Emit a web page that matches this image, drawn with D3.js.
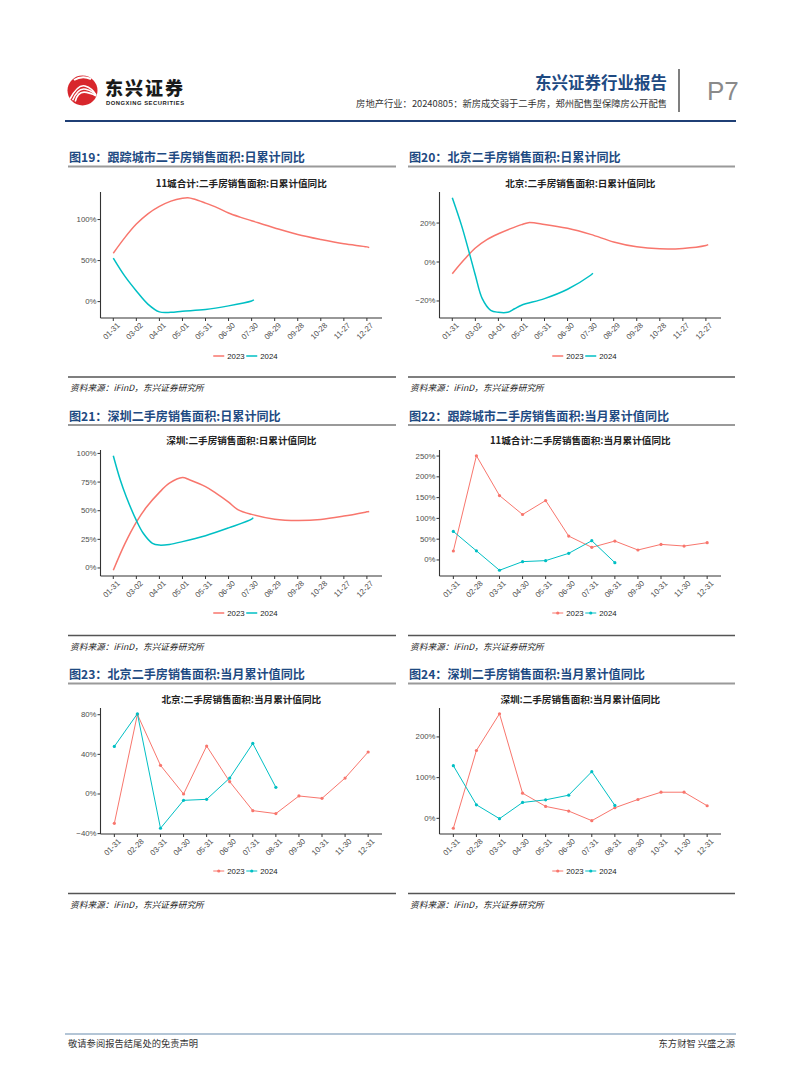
<!DOCTYPE html>
<html><head><meta charset="utf-8">
<script src="https://cdn.jsdelivr.net/npm/d3@7"></script>
<style>
body{margin:0;background:#fff;}
svg{display:block;}
</style></head><body>
<svg id="page" width="802" height="1087"></svg>
<script>
// ---------------- DATA ----------------
const seriesNames = ["2023", "2024"];
const dailyTicks = ["01-31","03-02","04-01","05-01","05-31","06-30","07-30","08-29","09-28","10-28","11-27","12-27"];
const monthTicks = ["01-31","02-28","03-31","04-30","05-31","06-30","07-31","08-31","09-30","10-31","11-30","12-31"];

// 图19 11城合计 日累计值同比 (%)
const c19_2023 = [["01-31",59],["02-15",78],["03-02",94.5],["03-17",107],["04-01",116],["04-16",122.5],["05-01",126],["05-08",126.6],["05-16",125],["05-31",120],["06-15",114.5],["06-30",108],["07-15",103],["07-30",98.6],["08-29",89.8],["09-28",81.7],["10-28",75.6],["11-27",70.4],["12-27",66.7],["12-30",65.8]];
const c19_2024 = [["01-31",53],["02-15",31],["03-02",13],["03-17",-3],["04-01",-12.5],["04-16",-13],["05-01",-11.7],["05-31",-9.7],["06-30",-5.2],["07-30",0.8],["08-02",2]];

// 图20 北京 日累计值同比 (%)
const c20_2023 = [["01-31",-6],["02-15",1],["03-02",7.2],["03-17",11.5],["04-01",14.5],["04-16",17],["05-01",19.2],["05-10",20.2],["05-31",19.3],["06-30",17.3],["07-30",14.2],["08-29",10.3],["09-28",7.8],["10-28",6.8],["11-27",7],["12-27",8.5],["12-30",8.9]];
const c20_2024 = [["01-31",33],["02-12",18.8],["02-23",3.4],["03-02",-6.8],["03-11",-18.8],["03-22",-24.8],["04-01",-25.8],["04-13",-25.8],["04-22",-24],["05-01",-22.2],["05-31",-18.8],["06-30",-14],["07-30",-6.8],["08-02",-5.8]];

// 图21 深圳 日累计值同比 (%)
const c21_2023 = [["01-31",-2],["02-15",21],["03-02",40],["03-15",53],["04-01",66],["04-14",74],["05-01",79],["05-10",77],["05-31",71],["06-13",65.6],["06-30",57.5],["07-12",51],["07-30",46.8],["08-29",42.6],["09-28",41.5],["10-28",42.4],["11-27",45.3],["12-27",49],["12-30",49.4]];
const c21_2024 = [["01-31",98],["02-09",77],["02-17",62],["03-02",41.5],["03-11",30.3],["03-23",21.5],["04-01",20],["04-14",20.6],["05-01",23],["05-31",28.2],["06-30",35],["07-30",42.6],["08-01",44]];

// 图22 11城合计 当月累计值同比 (%)
const c22_2023 = [21.6,250.8,155,109.4,143,57.5,30.4,45.5,24,37.5,33.5,41.5];
const c22_2024 = [68.7,22,-24.8,-4,-1.6,16,46.3,-6.4];

// 图23 北京 当月累计值同比 (%)
const c23_2023 = [-29.6,80.3,28.9,0,48.4,12.4,-16.8,-19.8,-2,-4.4,16.1,42.4];
const c23_2024 = [48,81,-34.6,-6.4,-5.4,16.1,51,6.7];

// 图24 深圳 当月累计值同比 (%)
const c24_2023 = [-24.4,166.7,257,61.8,29.3,17.9,-5.7,26,46.3,64.2,64.2,30.9];
const c24_2024 = [129.3,33.3,-0.8,39,45.5,56.9,114.6,31.7];

const yTicks19 = [0,50,100];
const yTicks20 = [-20,0,20];
const yTicks21 = [0,25,50,75,100];
const yTicks22 = [0,50,100,150,200,250];
const yTicks23 = [-40,0,40,80];
const yTicks24 = [0,100,200];

const panelTitles = ["图19：跟踪城市二手房销售面积:日累计同比","图20：北京二手房销售面积:日累计同比","图21：深圳二手房销售面积:日累计同比","图22：跟踪城市二手房销售面积:当月累计值同比","图23：北京二手房销售面积:当月累计值同比","图24：深圳二手房销售面积:当月累计值同比"];
const chartTitles = ["11城合计:二手房销售面积:日累计值同比","北京:二手房销售面积:日累计值同比","深圳:二手房销售面积:日累计值同比","11城合计:二手房销售面积:当月累计值同比","北京:二手房销售面积:当月累计值同比","深圳:二手房销售面积:当月累计值同比"];
const sourceText = "资料来源：iFinD，东兴证券研究所";

// ---------------- STYLE / LAYOUT ----------------
const COL = ["#F8766D", "#00BFC4"];
const CJK = "'Noto Sans CJK SC','Noto Sans',sans-serif";
const LAT = "'Liberation Sans',Arial,sans-serif";
const BLUE = "#1e4a82";
const svg = d3.select("#page");

// Header
const logo = svg.append("g");
logo.append("circle").attr("cx",82.5).attr("cy",90.5).attr("r",15).attr("fill","#d8262c");
[[0,0],[2.6,3.2],[5.2,6.4]].forEach(([dx,dy])=>{
  logo.append("path").attr("d",`M${70+dx},${99+dy*0.4} Q${78},${84+dy} ${85+dx*0.3},${86+dy} T${96},${95+dy*0.2}`)
    .attr("fill","none").attr("stroke","#fff").attr("stroke-width",1.6);
});
logo.append("path").attr("d","M74,80 Q82,75 91,79").attr("fill","none").attr("stroke","#fff").attr("stroke-width",2);
svg.append("text").attr("x",105).attr("y",95).attr("font-family",CJK).attr("font-weight",900)
  .attr("font-size",18).attr("fill","#1a1a1a").attr("textLength",78).text("东兴证券");
svg.append("text").attr("x",106).attr("y",104.5).attr("font-family",LAT).attr("font-weight",700)
  .attr("font-size",5.8).attr("fill","#1a1a1a").attr("textLength",78).text("DONGXING SECURITIES");

svg.append("text").attr("x",667).attr("y",89).attr("text-anchor","end").attr("font-family",CJK)
  .attr("font-weight",700).attr("font-size",16.5).attr("fill",BLUE).text("东兴证券行业报告");
svg.append("text").attr("x",667).attr("y",107).attr("text-anchor","end").attr("font-family",CJK)
  .attr("font-size",9.3).attr("fill","#333").text("房地产行业：20240805：新房成交弱于二手房，郑州配售型保障房公开配售");
svg.append("line").attr("x1",679).attr("x2",679).attr("y1",69).attr("y2",112).attr("stroke","#555").attr("stroke-width",1.5);
svg.append("text").attr("x",707).attr("y",100).attr("font-family",LAT).attr("font-size",26)
  .attr("fill","#8a8a8a").text("P7");
svg.append("line").attr("x1",65).attr("x2",736).attr("y1",121).attr("y2",121).attr("stroke","#1f3f75").attr("stroke-width",2);

// Footer
svg.append("line").attr("x1",65).attr("x2",736).attr("y1",1034).attr("y2",1034).attr("stroke","#b3c5d6").attr("stroke-width",2);
svg.append("text").attr("x",68).attr("y",1047).attr("font-family",CJK).attr("font-size",9.3).attr("fill","#333").text("敬请参阅报告结尾处的免责声明");
svg.append("text").attr("x",735).attr("y",1047).attr("text-anchor","end").attr("font-family",CJK).attr("font-size",9.3).attr("fill","#333").text("东方财智 兴盛之源");

// Panel frames
const cols = [{x0:68,x1:396,pl:100.5,pr:382},{x0:408,x1:735,pl:439.5,pr:721}];
const rows = [
  {title:156,gray:166.5,ctitle:183,pt:192,pb:318,legend:356,bottom:377,source:387},
  {title:415,gray:425,ctitle:440,pt:450,pb:576,legend:613,bottom:635.5,source:646},
  {title:673.5,gray:683.5,ctitle:699,pt:708,pb:834,legend:871,bottom:893.5,source:904}
];

function frame(i){
  const c = cols[i%2], r = rows[Math.floor(i/2)];
  svg.append("text").attr("x",c.x0+1).attr("y",r.title).attr("dominant-baseline","central")
    .attr("font-family",CJK).attr("font-weight",700).attr("font-size",12.1).attr("fill",BLUE).text(panelTitles[i]);
  svg.append("line").attr("x1",c.x0).attr("x2",c.x1).attr("y1",r.gray).attr("y2",r.gray).attr("stroke","#9a9a9a").attr("stroke-width",2);
  svg.append("line").attr("x1",c.x0).attr("x2",c.x1).attr("y1",r.bottom).attr("y2",r.bottom).attr("stroke","#555").attr("stroke-width",1.5);
  svg.append("text").attr("x",c.x0+2).attr("y",r.source).attr("dominant-baseline","central")
    .attr("font-family",CJK).attr("font-style","italic").attr("font-size",8.7).attr("fill","#222").text(sourceText);
  svg.append("text").attr("x",(c.pl+c.pr)/2).attr("y",r.ctitle).attr("dominant-baseline","central").attr("text-anchor","middle")
    .attr("font-family",CJK).attr("font-weight",700).attr("font-size",9.6).attr("fill","#222").text(chartTitles[i]);
  return {c, r};
}

function yScaleFor(vals, r){
  const [mn,mx] = d3.extent(vals);
  const pad = (mx-mn)*0.05;
  return d3.scaleLinear().domain([mn-pad, mx+pad]).range([r.pb, r.pt]);
}

function drawAxes(c, r, y, yTicks, xTickPos, xTickLabels){
  const g = svg.append("g");
  g.append("line").attr("x1",c.pl).attr("x2",c.pl).attr("y1",r.pt).attr("y2",r.pb).attr("stroke","#333").attr("stroke-width",1.1);
  g.append("line").attr("x1",c.pl).attr("x2",c.pr).attr("y1",r.pb).attr("y2",r.pb).attr("stroke","#333").attr("stroke-width",1.1);
  yTicks.forEach(t=>{
    const yy = y(t);
    g.append("line").attr("x1",c.pl-3).attr("x2",c.pl).attr("y1",yy).attr("y2",yy).attr("stroke","#333");
    g.append("text").attr("x",c.pl-4).attr("y",yy).attr("dominant-baseline","central").attr("text-anchor","end")
      .attr("font-family",LAT).attr("font-size",7.8).attr("fill","#4d4d4d").text(d3.format("d")(t)+"%");
  });
  xTickPos.forEach((xx,k)=>{
    g.append("line").attr("x1",xx).attr("x2",xx).attr("y1",r.pb).attr("y2",r.pb+3).attr("stroke","#333");
    g.append("text").attr("transform",`translate(${xx+3},${r.pb+4}) rotate(-45)`)
      .attr("text-anchor","end").attr("dominant-baseline","hanging")
      .attr("font-family",LAT).attr("font-size",7.8).attr("fill","#4d4d4d").text(xTickLabels[k]);
  });
}

function legend(c, r, withDots){
  const g = svg.append("g");
  const cx = (c.pl+c.pr)/2 + 3;
  const start = cx - 31;
  seriesNames.forEach((s,k)=>{
    const x0 = start + k*33;
    g.append("line").attr("x1",x0).attr("x2",x0+11).attr("y1",r.legend).attr("y2",r.legend)
      .attr("stroke",COL[k]).attr("stroke-width",withDots?1:1.5);
    if(withDots) g.append("circle").attr("cx",x0+5.5).attr("cy",r.legend).attr("r",1.6).attr("fill",COL[k]);
    g.append("text").attr("x",x0+14).attr("y",r.legend).attr("dominant-baseline","central")
      .attr("font-family",LAT).attr("font-size",7.8).attr("fill","#1a1a1a").text(s);
  });
}

const parseMD = s => d3.timeParse("%Y-%m-%d")("2023-"+s);

function drawDaily(i, s23, s24, yTicks){
  const {c, r} = frame(i);
  const all = s23.concat(s24);
  const dts = all.map(d=>parseMD(d[0]));
  const [d0,d1] = d3.extent(dts);
  const span = d1 - d0;
  const x = d3.scaleTime().domain([new Date(+d0 - span*0.05), new Date(+d1 + span*0.05)]).range([c.pl, c.pr]);
  const y = yScaleFor(all.map(d=>d[1]), r);
  drawAxes(c, r, y, yTicks, dailyTicks.map(t=>x(parseMD(t))), dailyTicks);
  const line = d3.line().x(d=>x(parseMD(d[0]))).y(d=>y(d[1])).curve(d3.curveCatmullRom.alpha(0.5));
  [s23, s24].forEach((s,k)=>{
    svg.append("path").attr("d",line(s)).attr("fill","none").attr("stroke",COL[k]).attr("stroke-width",1.5);
  });
  legend(c, r, false);
}

function drawMonthly(i, s23, s24, yTicks){
  const {c, r} = frame(i);
  const x = d3.scalePoint().domain(monthTicks).range([c.pl, c.pr]).padding(0.6);
  const y = yScaleFor(s23.concat(s24), r);
  drawAxes(c, r, y, yTicks, monthTicks.map(t=>x(t)), monthTicks);
  const line = d3.line().x((d,k)=>x(monthTicks[k])).y(d=>y(d));
  [s23, s24].forEach((s,k)=>{
    svg.append("path").attr("d",line(s)).attr("fill","none").attr("stroke",COL[k]).attr("stroke-width",1);
    svg.append("g").selectAll("circle").data(s).join("circle")
      .attr("cx",(d,j)=>x(monthTicks[j])).attr("cy",d=>y(d)).attr("r",1.6).attr("fill",COL[k]);
  });
  legend(c, r, true);
}

drawDaily(0, c19_2023, c19_2024, yTicks19);
drawDaily(1, c20_2023, c20_2024, yTicks20);
drawDaily(2, c21_2023, c21_2024, yTicks21);
drawMonthly(3, c22_2023, c22_2024, yTicks22);
drawMonthly(4, c23_2023, c23_2024, yTicks23);
drawMonthly(5, c24_2023, c24_2024, yTicks24);
</script>
</body></html>
